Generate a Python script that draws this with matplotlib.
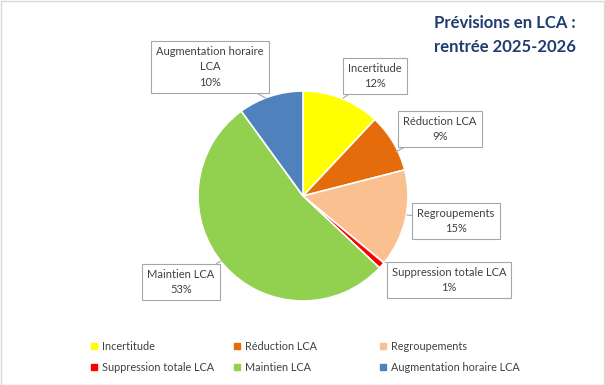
import matplotlib.pyplot as plt
from matplotlib.patches import Rectangle
from matplotlib.lines import Line2D

plt.rcParams['font.family'] = ['Lato', 'DejaVu Sans']

categories = ['Incertitude', 'Réduction LCA', 'Regroupements',
              'Suppression totale LCA', 'Maintien LCA', 'Augmentation horaire LCA']
values = [12, 9, 15, 1, 53, 10]
colors = ['#FFFF00', '#E46C0A', '#FAC090', '#FF0000', '#92D050', '#4F81BD']
box_labels = ['Incertitude', 'Réduction LCA', 'Regroupements',
              'Suppression totale LCA', 'Maintien LCA', 'Augmentation horaire\nLCA']

W, H = 605, 385
fig = plt.figure(figsize=(W / 100, H / 100), dpi=100)

# pie centred at (303, 196) px, radius 105 px
cx, cy, r = 303, 196, 105
ax = fig.add_axes([(cx - r) / W, (H - cy - r) / H, 2 * r / W, 2 * r / H])
wedges, _ = ax.pie(values, colors=colors, startangle=90, counterclock=False,
                   radius=1, wedgeprops=dict(edgecolor='white', linewidth=1.2))
ax.set_xlim(-1, 1)
ax.set_ylim(-1, 1)
ax.set_aspect('equal')
ax.axis('off')

# label box centres (px from top-left) and arrow target on the pie (data coords)
box_pos = [(375, 76), (440, 129), (456, 221), (449, 280), (181, 282), (210, 67)]
targets = [(0.38, 0.93), (0.88, 0.42), (0.99, -0.18), (0.78, -0.63), (-0.78, -0.62), (-0.35, 0.93)]
for lab, v, (bx, by), tgt in zip(box_labels, values, box_pos, targets):
    ax.annotate(f'{lab}\n{v}%', xy=tgt, xycoords='data',
                xytext=(bx, H - by), textcoords='figure pixels',
                ha='center', va='center', fontsize=8, color='#404040',
                linespacing=1.45, annotation_clip=False,
                bbox=dict(boxstyle='square,pad=0.45', fc='white', ec='#A6A6A6', lw=0.8),
                arrowprops=dict(arrowstyle='-', color='#A6A6A6', lw=0.8,
                                shrinkA=0, shrinkB=0))

# title
fig.text(505 / W, 1 - 35 / H, 'Prévisions en LCA :\nrentrée 2025-2026',
         ha='center', va='center', fontsize=12, fontweight='bold',
         color='#1F3B70', linespacing=1.65)

# legend: three columns, two rows
col_x = [84, 227, 373]
for c, x in enumerate(col_x):
    idx = [c, c + 3]
    handles = [Line2D([], [], marker='s', ls='', color=colors[i], markersize=4)
               for i in idx]
    leg = fig.legend(handles, [categories[i] for i in idx],
                     loc='center left', bbox_to_anchor=(x / W, 1 - 357 / H),
                     frameon=False, fontsize=7.8, handlelength=0.5, handletextpad=0.45,
                     labelspacing=0.95, labelcolor='#404040', borderpad=0.2)

# outer border of the chart area
fig.patches.append(Rectangle((0.5 / W, 0.5 / H), 1 - 1.5 / W, 1 - 1.5 / H,
                             transform=fig.transFigure, fill=False,
                             ec='#D9D9D9', lw=1))

fig.savefig('out.png', dpi=100)
